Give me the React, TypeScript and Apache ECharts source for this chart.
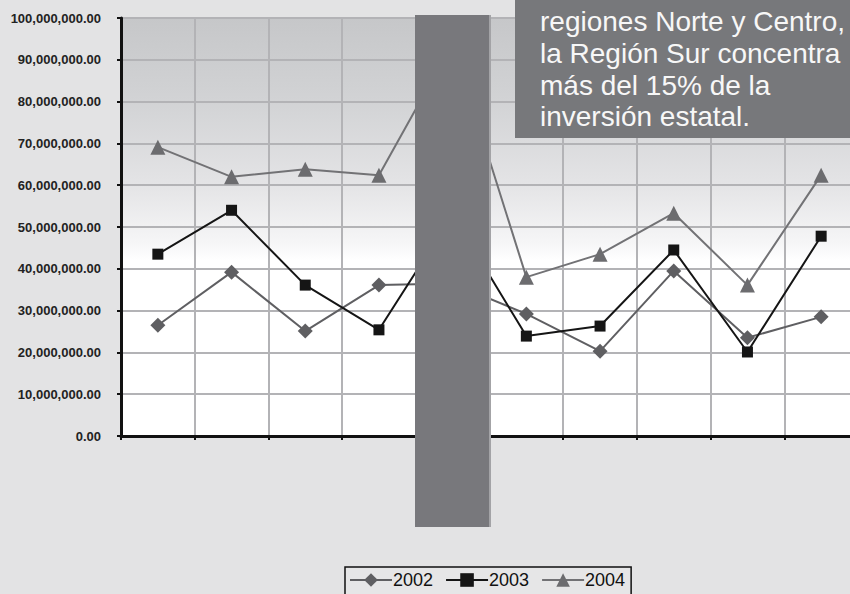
import React, { useEffect, useRef } from "react";
import * as echarts from "echarts";

const categories = ["1", "2", "3", "4", "5", "6", "7", "8", "9", "10"];
const series2002 = [26500000, 39200000, 25100000, 36100000, 36500000, 29200000, 20300000, 39500000, 23500000, 28500000];
const series2003 = [43500000, 54000000, 36100000, 25400000, 53000000, 23900000, 26300000, 44500000, 20100000, 47800000];
const series2004 = [69100000, 62000000, 63800000, 62400000, 94000000, 38000000, 43500000, 53300000, 36100000, 62400000];
const seriesNames = ["2002", "2003", "2004"];
const noteLines = [
  "regiones Norte y Centro,",
  "la Región Sur concentra",
  "más del 15% de la",
  "inversión estatal.",
];

export default function App() {
  const ref = useRef<HTMLDivElement>(null);
  useEffect(() => {
    if (!ref.current) return;
    const chart = echarts.init(ref.current, null, { renderer: "svg" });
    const fmt = (v: number) =>
      v.toLocaleString("en-US", { minimumFractionDigits: 2, maximumFractionDigits: 2 });
    chart.setOption({
      animation: false,
      backgroundColor: "#e3e3e4",
      grid: {
        left: 121,
        top: 18,
        width: 737,
        height: 418,
        show: true,
        borderWidth: 2,
        borderColor: "#6a6a6c",
        backgroundColor: {
          type: "linear",
          x: 0,
          y: 0,
          x2: 0,
          y2: 1,
          colorStops: [
            { offset: 0, color: "#c6c7c9" },
            { offset: 0.2, color: "#d2d3d5" },
            { offset: 0.4, color: "#e4e4e6" },
            { offset: 0.54, color: "#f6f6f7" },
            { offset: 0.58, color: "#ffffff" },
            { offset: 1, color: "#ffffff" },
          ],
        },
      },
      xAxis: {
        type: "category",
        data: categories,
        boundaryGap: true,
        axisLine: { show: true, lineStyle: { color: "#111", width: 3 } },
        axisTick: { show: true, length: 4, lineStyle: { color: "#111", width: 2 } },
        axisLabel: { show: false },
        splitLine: { show: true, lineStyle: { color: "#b3b3b6", width: 2 } },
      },
      yAxis: {
        type: "value",
        min: 0,
        max: 100000000,
        interval: 10000000,
        axisLine: { show: true, lineStyle: { color: "#111", width: 3 } },
        axisTick: { show: true, length: 4, lineStyle: { color: "#111", width: 2 } },
        axisLabel: {
          formatter: (v: number) => fmt(v),
          fontFamily: "Liberation Sans, Arial, sans-serif",
          fontWeight: "bold",
          fontSize: 13,
          color: "#222",
          margin: 20,
        },
        splitLine: { show: true, lineStyle: { color: "#b3b3b6", width: 2 } },
      },
      legend: {
        data: seriesNames,
        left: 345,
        top: 567,
        orient: "horizontal",
        itemWidth: 42,
        itemHeight: 17,
        itemGap: 12,
        padding: [4, 6, 8, 4],
        borderColor: "#111",
        borderWidth: 1.5,
        backgroundColor: "#e6e6e7",
        textStyle: {
          fontFamily: "Liberation Sans, Arial, sans-serif",
          fontSize: 18,
          color: "#111",
          padding: [0, 0, 0, -4],
        },
      },
      series: [
        {
          name: seriesNames[0],
          type: "line",
          data: series2002,
          symbol: "diamond",
          symbolSize: 15,
          lineStyle: { color: "#5f5f62", width: 2 },
          itemStyle: { color: "#5f5f62" },
          z: 3,
        },
        {
          name: seriesNames[1],
          type: "line",
          data: series2003,
          symbol: "rect",
          symbolSize: 11,
          lineStyle: { color: "#151515", width: 2 },
          itemStyle: { color: "#151515" },
          z: 4,
        },
        {
          name: seriesNames[2],
          type: "line",
          data: series2004,
          symbol: "triangle",
          symbolSize: 15,
          lineStyle: { color: "#727275", width: 2 },
          itemStyle: { color: "#6c6c6f" },
          z: 2,
        },
      ],
      graphic: [
        {
          type: "rect",
          z: 100,
          shape: { x: 415, y: 15, width: 74, height: 512 },
          style: { fill: "#78787c" },
        },
        {
          type: "rect",
          z: 100,
          shape: { x: 489, y: 15, width: 2, height: 512 },
          style: { fill: "#a3a3a6" },
        },
        {
          type: "rect",
          z: 100,
          shape: { x: 515, y: -5, width: 345, height: 143 },
          style: { fill: "#77787b" },
        },
        {
          type: "text",
          z: 101,
          x: 540,
          y: 6,
          style: {
            text: noteLines.join("\n"),
            fill: "#f7f7f7",
            font: "28px 'Liberation Sans', Arial, sans-serif",
            lineHeight: 31.7,
          },
        },
      ],
    });
    return () => chart.dispose();
  }, []);
  return (
    <div
      style={{ position: "fixed", left: 0, top: 0, width: 850, height: 594, overflow: "hidden" }}
    >
      <div ref={ref} style={{ width: 860, height: 594 }} />
    </div>
  );
}
